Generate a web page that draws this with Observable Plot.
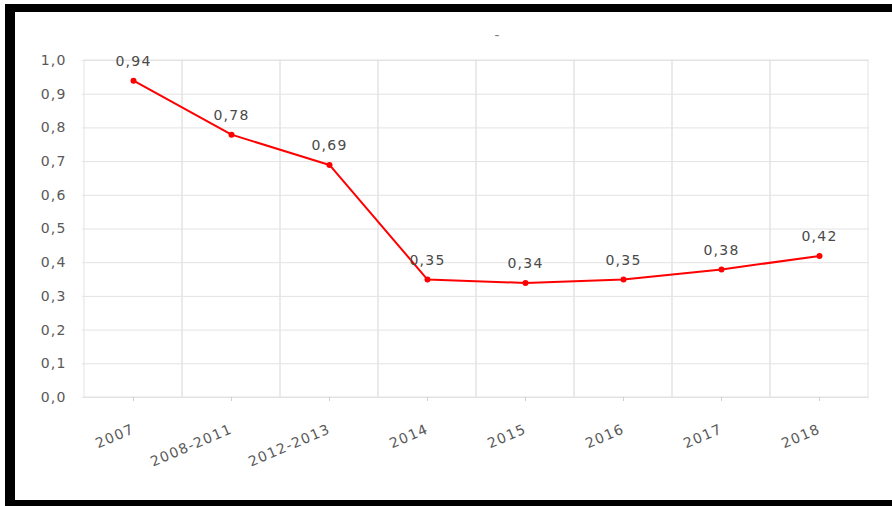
<!DOCTYPE html>
<html>
<head>
<meta charset="utf-8">
<script src="https://cdn.jsdelivr.net/npm/d3@7"></script>
<script src="https://cdn.jsdelivr.net/npm/@observablehq/plot@0.6"></script>
<style>
  html, body { margin: 0; padding: 0; background: #fff; }
  #page { position: relative; width: 892px; height: 506px; overflow: hidden; background: #fff; }
  #frame {
    position: absolute; left: 5px; top: 4px; width: 887px; height: 502px;
    border-left: 10px solid #000; border-top: 8px solid #000; border-bottom: 6px solid #000;
    box-sizing: border-box;
  }
  #title {
    position: absolute; left: 0; width: 994px; top: 27px; text-align: center;
    font: 14px "DejaVu Sans", sans-serif; color: #7f7f7f;
  }
  #chart { position: absolute; left: 0; top: 0; }
  #chart svg text { letter-spacing: 1.2px; }
  #chart svg g[aria-label="y-axis tick label"] text { letter-spacing: 1.2px; }
</style>
</head>
<body>
<div id="page">
  <div id="frame"></div>
  <div id="title">-</div>
  <div id="chart"></div>
</div>
<script>
// Periods on the x axis and the value observed in each one
const periods = ["2007", "2008-2011", "2012-2013", "2014", "2015", "2016", "2017", "2018"];
const values = [0.94, 0.78, 0.69, 0.35, 0.34, 0.35, 0.38, 0.42];
const yTicks = [0, 0.1, 0.2, 0.3, 0.4, 0.5, 0.6, 0.7, 0.8, 0.9, 1.0];

const rows = periods.map((p, i) => ({period: p, value: values[i]}));
const comma = (v, digits) => v.toFixed(digits).replace(".", ",");

const gridColor = "#e3e3e3";
const textColor = "#595959";

const chart = Plot.plot({
  width: 892,
  height: 506,
  marginLeft: 82,
  marginRight: 23,
  marginTop: 60,
  marginBottom: 109,
  style: {fontFamily: "DejaVu Sans, sans-serif", fontSize: "13px", color: textColor, background: "transparent"},
  x: {type: "band", domain: periods, padding: 0},
  y: {domain: [0, 1]},
  marks: [
    // vertical gridlines on category boundaries
    Plot.barY(periods, {x: d => d, y1: 0, y2: 1, fill: "none", stroke: gridColor, strokeWidth: 1, inset: 0}),
    // horizontal gridlines
    Plot.ruleY(yTicks, {stroke: gridColor, strokeWidth: 1}),
    Plot.axisY({ticks: yTicks, tickFormat: d => comma(d, 1), tickSize: 0, tickPadding: 16, fontSize: 14, fill: textColor, label: null}),
    Plot.axisX({tickSize: 4, stroke: "#d0d0d0", tickPadding: 27, tickRotate: -23, fontSize: 14, fill: textColor, label: null}),
    Plot.line(rows, {x: "period", y: "value", stroke: "#ff0000", strokeWidth: 2}),
    Plot.dot(rows, {x: "period", y: "value", r: 3, fill: "#ff0000"}),
    Plot.text(rows, {x: "period", y: "value", text: d => comma(d.value, 2), dy: -19, fontSize: 14, fill: "#4a4a4a"})
  ]
});
document.getElementById("chart").appendChild(chart);
</script>
</body>
</html>
